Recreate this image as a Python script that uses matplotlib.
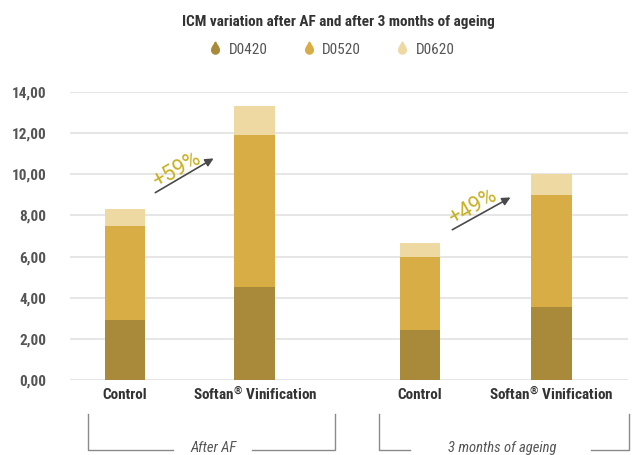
import numpy as np
import matplotlib
matplotlib.use('Agg')
import matplotlib.pyplot as plt
from matplotlib.path import Path
from matplotlib.lines import Line2D
from matplotlib.ticker import FuncFormatter

# %% data
categories = ['Control', 'Softan$^{®}$ Vinification', 'Control', 'Softan$^{®}$ Vinification']
groups = ['After AF', '3 months of ageing']
series = ['D0420', 'D0520', 'D0620']
d0420 = [2.90, 4.50, 2.45, 3.55]
d0520 = [4.60, 7.40, 3.55, 5.45]   # stacked on top of D0420
d0620 = [0.80, 1.40, 0.65, 1.00]   # stacked on top of D0520
gains = ['+59%', '+49%']

colors = ['#a98a3a', '#d9ad45', '#efd9a2']
x = np.array([0.0, 1.0, 2.27, 3.28])

# %% style
plt.rcParams['font.family'] = ['Roboto Condensed', 'DejaVu Sans']
plt.rcParams['font.size'] = 10
plt.rcParams['mathtext.fontset'] = 'custom'
plt.rcParams['mathtext.rm'] = 'Roboto Condensed:bold'
plt.rcParams['mathtext.default'] = 'regular'

fig = plt.figure(figsize=(6.33, 4.55), dpi=100)
ax = fig.add_axes([0.1106, 0.1648, 0.8814, 0.633])

bottom = np.zeros(len(x))
for vals, col, name in zip([d0420, d0520, d0620], colors, series):
    ax.bar(x, vals, width=0.315, bottom=bottom, color=col, label=name, zorder=3)
    bottom = bottom + np.array(vals)

ax.set_ylim(0, 14)
ax.set_xlim(-0.423, 3.87)
ax.set_yticks(np.arange(0, 15, 2))
ax.yaxis.set_major_formatter(FuncFormatter(lambda v, p: f'{v:.2f}'.replace('.', ',')))
ax.grid(axis='y', color='#e2e2e2', lw=1.2, zorder=0)
for s in ax.spines.values():
    s.set_visible(False)
ax.tick_params(axis='y', length=0, pad=17, labelsize=11, labelcolor='#555555')
ax.set_xticks(x)
ax.set_xticklabels(categories, fontweight='bold', color='#333333', fontsize=11)
ax.tick_params(axis='x', length=0, pad=14)
for lab in ax.get_xticklabels():
    lab.set_verticalalignment('baseline')
for lab in ax.get_yticklabels():
    lab.set_fontweight('bold')

# %% growth arrows
arrows = [((0.215, 9.04), (0.70, 10.84), (0.40, 10.2)),
          ((2.50, 7.24), (2.985, 8.94), (2.675, 8.4))]
for (start, end, tpos), txt in zip(arrows, gains):
    ax.annotate('', xy=end, xytext=start,
                arrowprops=dict(arrowstyle='-|>', color='#4a4a4a', lw=1.2, mutation_scale=12))
    ax.text(tpos[0], tpos[1], txt, rotation=30, color='#c9b022', fontsize=15.5,
            family='Roboto', ha='center', va='center', rotation_mode='anchor')

# %% group brackets (figure pixel coords)
W, H = 633, 455
def fline(xs, ys):
    fig.add_artist(Line2D([v / W for v in xs], [1 - v / H for v in ys], color='#8a8a8a', lw=1))

brackets = [(88, 335, 173, 252, 214), (379, 629, 410, 591, 502)]
for (l, r, g1, g2, tc), name in zip(brackets, groups):
    fline([l, l, g1], [414, 450, 450])
    fline([g2, r, r], [450, 450, 414])
    fig.text(tc / W, 1 - 448 / H, name, style='italic', color='#555555',
             fontsize=10.5, ha='center', va='center')

# %% title and legend
fig.text(338 / W, 1 - 22 / H, 'ICM variation after AF and after 3 months of ageing',
         fontweight='bold', color='#333333', fontsize=11, ha='center', va='center')

drop = Path([(0, 1), (0.15, 0.6), (0.5, 0.3), (0.5, -0.1),
             (0.5, -0.4), (0.25, -0.6), (0, -0.6),
             (-0.25, -0.6), (-0.5, -0.4), (-0.5, -0.1),
             (-0.5, 0.3), (-0.15, 0.6), (0, 1)],
            [Path.MOVETO] + [Path.CURVE4] * 12)
handles = [Line2D([], [], marker=drop, ls='none', color=c, markersize=11) for c in colors]
fig.legend(handles, series, loc='center', bbox_to_anchor=(331 / W, 1 - 50 / H), ncol=3,
           frameon=False, fontsize=11, labelcolor='#555555', handletextpad=0.4,
           columnspacing=2.2, handlelength=1.0)

fig.savefig('out.png', dpi=100)
